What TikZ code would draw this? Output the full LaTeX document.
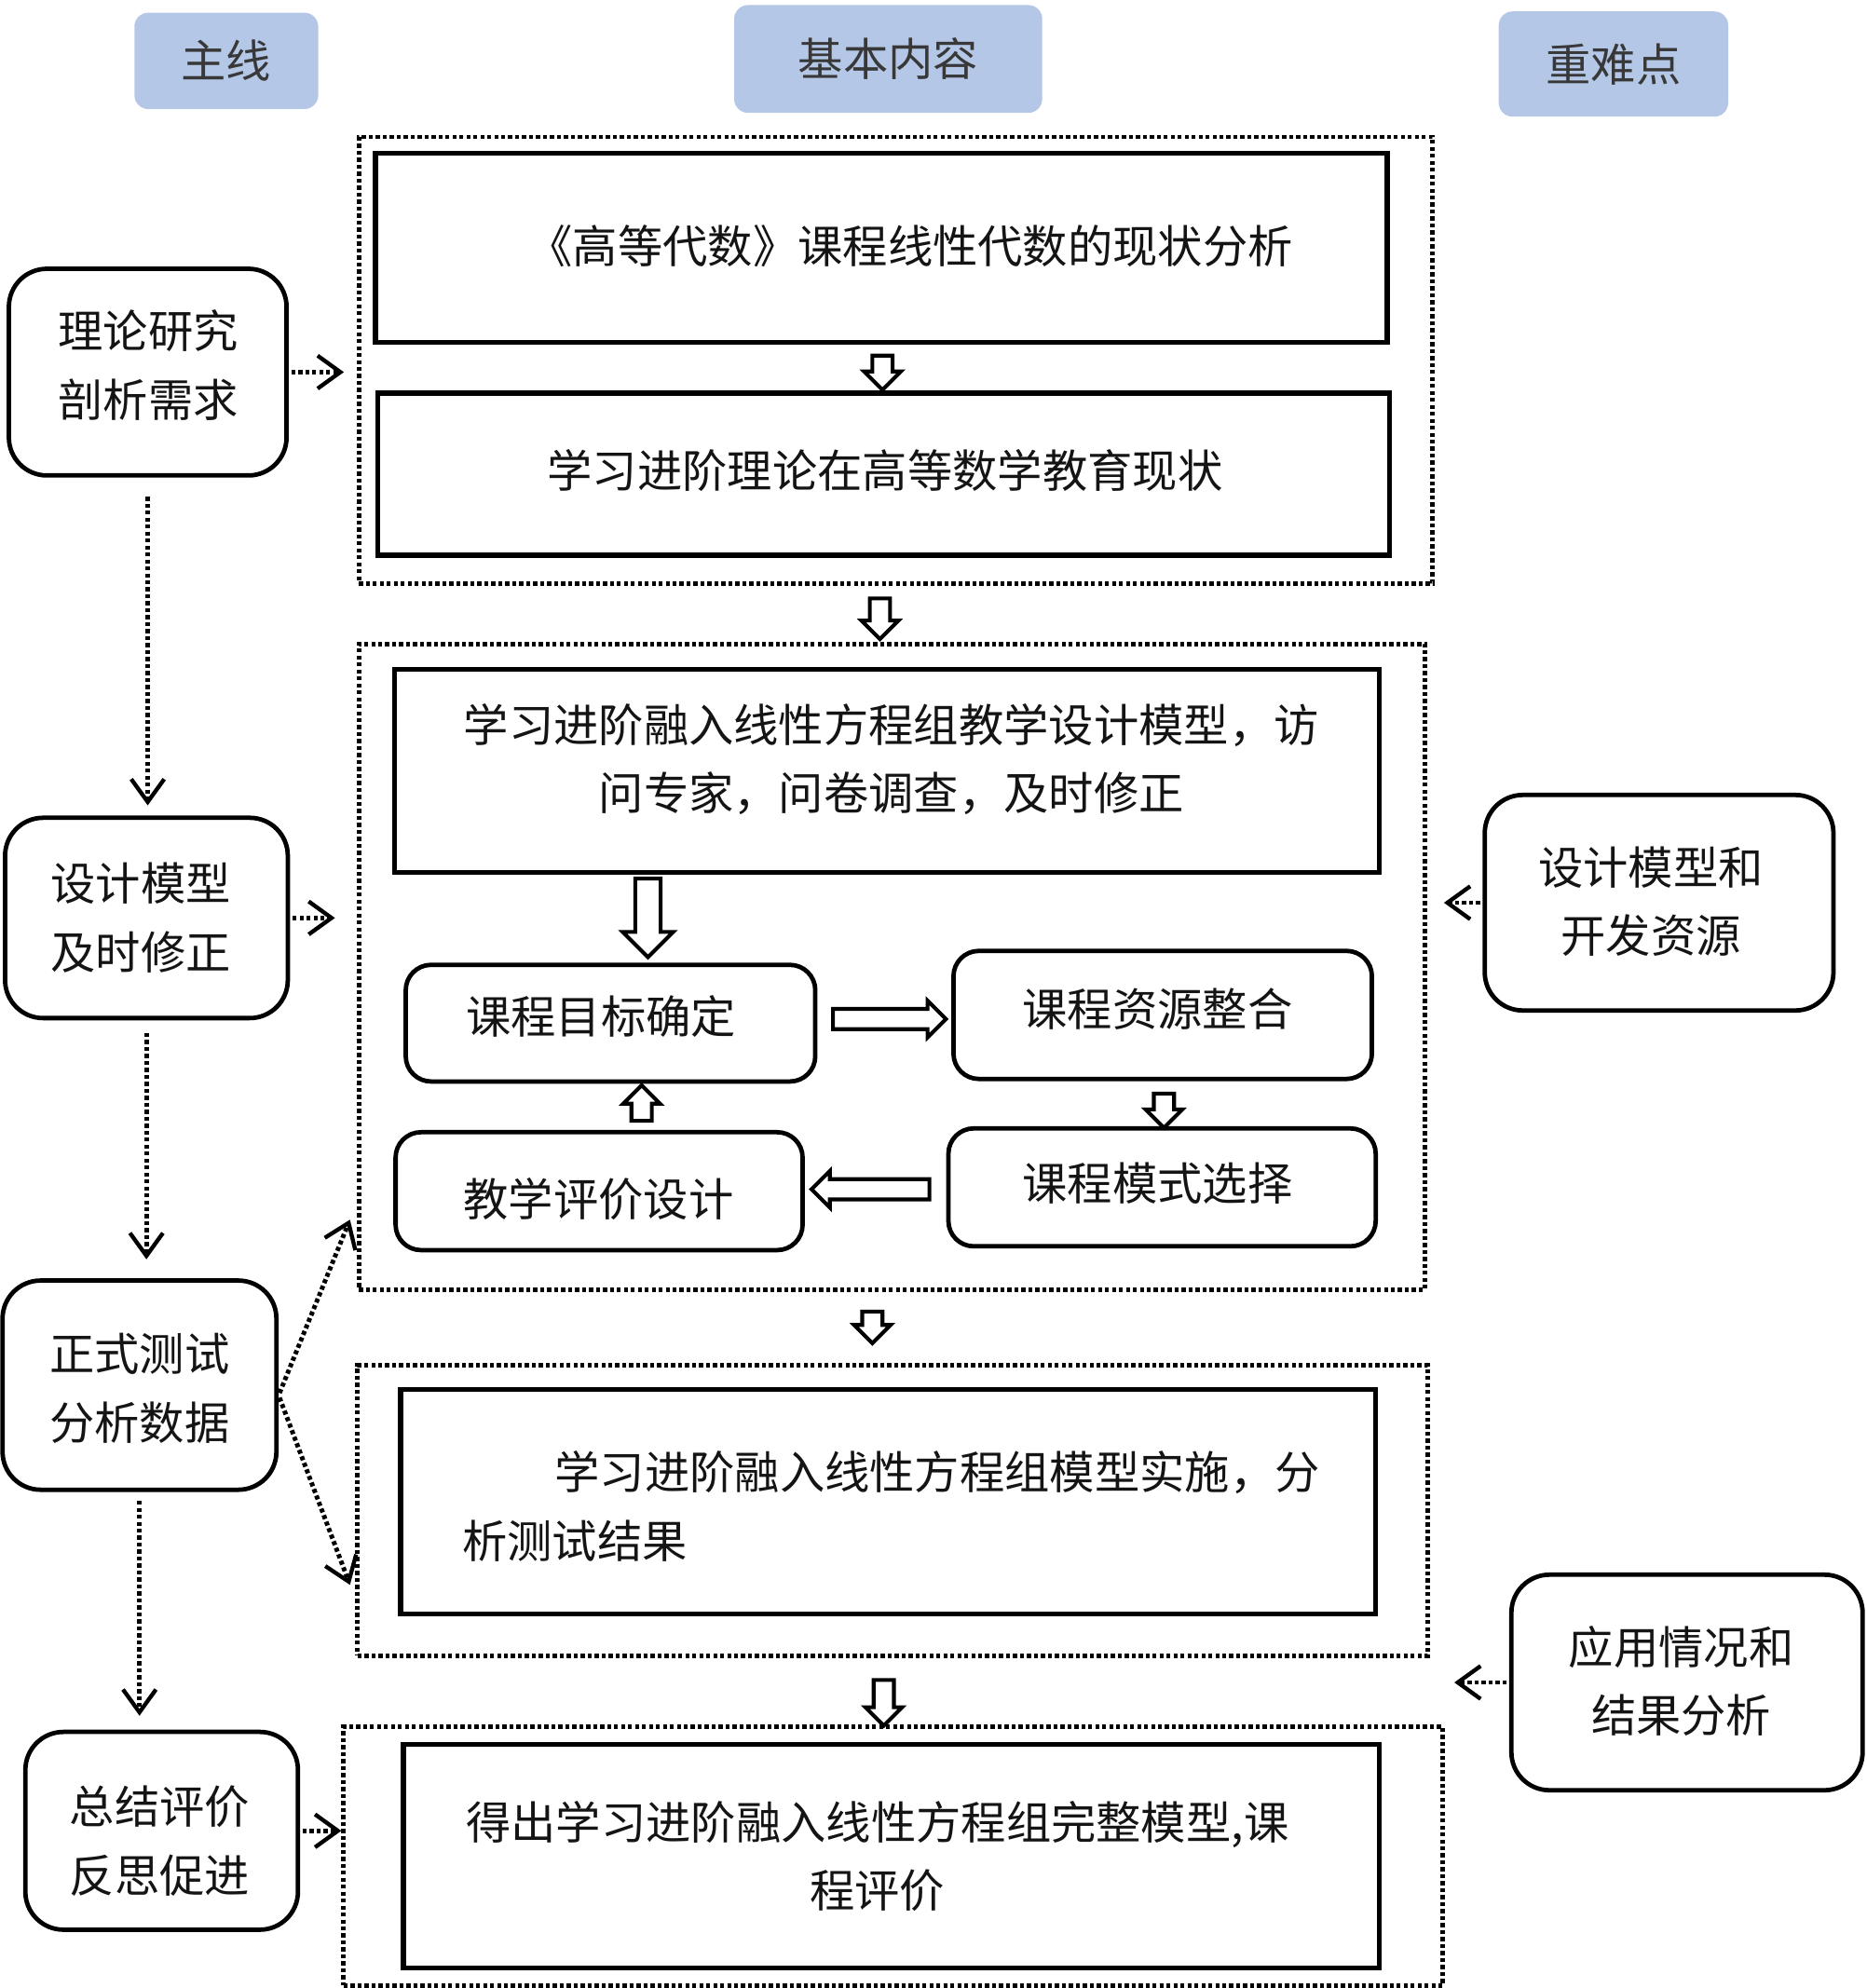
\documentclass[tikz,border=0pt]{standalone}
\usepackage{fontspec}
\newfontfamily\cjk{Noto Sans CJK SC}
\usetikzlibrary{arrows.meta,shapes.arrows,calc}
\definecolor{hdrblue}{RGB}{180,199,231}
\definecolor{txt}{RGB}{20,20,20}
\tikzset{
  every node/.style={font=\cjk\fontsize{35.5}{54}\selectfont, text=txt},
  hdr/.style={fill=hdrblue, rounded corners=11pt, inner sep=0pt, text=black!78},
  frame/.style={draw, line width=3.6pt, dash pattern=on 3.2pt off 2.3pt, inner sep=0pt},
  solidbox/.style={draw, line width=4pt, inner sep=0pt, align=center},
  sidebox/.style={draw, line width=3.5pt, rounded corners=30pt, inner sep=0pt, align=center},
  stepbox/.style={draw, line width=3.5pt, rounded corners=20pt, inner sep=0pt},
  hollow/.style={single arrow, draw, line width=3pt, fill=white, inner xsep=0pt, inner ysep=6.5pt,
    single arrow head extend=6.5pt, single arrow head indent=0pt, minimum width=0pt, outer sep=0pt},
  bighollow/.style={hollow, inner ysep=8.5pt, single arrow head extend=10pt},
  dotarrow/.style={line width=3.6pt, dash pattern=on 3.2pt off 2.3pt,
    -{Straight Barb[length=18pt,width=26pt,line width=3.2pt]}}
}
\begin{document}
\begin{tikzpicture}[x=1pt,y=-1pt]
\useasboundingbox (0,0) rectangle (1472,1568);

% headers
\node[hdr, minimum width=145pt, minimum height=76pt] (h1) at (178.5,48) {主线};
\node[hdr, minimum width=243pt, minimum height=85pt] (h2) at (700.5,46.5) {基本内容};
\node[hdr, minimum width=181pt, minimum height=83pt] (h3) at (1272.5,50.5) {重难点};

% group frames
\node[frame, minimum width=847pt, minimum height=352pt] (g1) at (706.5,284) {};
\node[frame, minimum width=841pt, minimum height=509pt] (g2) at (703.5,762.5) {};
\node[frame, minimum width=844pt, minimum height=229pt] (g3) at (704,1191.5) {};
\node[frame, minimum width=867pt, minimum height=204pt] (g4) at (704.5,1464) {};

% main boxes
\node[solidbox, minimum width=798pt, minimum height=149pt] (A) at (695,195.5) {};
\node (At) at (718,194) {《高等代数》课程线性代数的现状分析};
\node[solidbox, minimum width=798pt, minimum height=128pt] (B) at (697,374) {};
\node (Bt) at (698,371) {学习进阶理论在高等数学教育现状};
\node[solidbox, minimum width=777pt, minimum height=160pt] (C) at (699.5,608) {};
\node[align=center] (Ct) at (703,599) {学习进阶融入线性方程组教学设计模型，访\\问专家，问卷调查，及时修正};
\node[solidbox, minimum width=769pt, minimum height=177pt] (D) at (700.5,1184.5) {};
\node[align=left, anchor=west] (Dt) at (361,1188) {\hspace*{73pt}学习进阶融入线性方程组模型实施，分\\析测试结果};
\node[solidbox, minimum width=770pt, minimum height=176pt] (E) at (703,1464) {};
\node[align=center] (Et) at (692,1464) {得出学习进阶融入线性方程组完整模型,课\\程评价};

% step boxes
\node[stepbox, minimum width=323pt, minimum height=92pt] (P) at (481.5,807) {};
\node (Pt) at (474,802) {课程目标确定};
\node[stepbox, minimum width=330pt, minimum height=101pt] (Q) at (917,800.5) {};
\node (Qt) at (913,796) {课程资源整合};
\node[stepbox, minimum width=337pt, minimum height=93pt] (R) at (916.5,936.5) {};
\node (Rt) at (913,933) {课程模式选择};
\node[stepbox, minimum width=321pt, minimum height=93pt] (S) at (472.5,939.5) {};
\node (St) at (472,946) {教学评价设计};

% side boxes
\node[sidebox, minimum width=219pt, minimum height=163pt] (L1) at (116.5,293.5) {};
\node[align=center] (L1t) at (117,288) {理论研究\\剖析需求};
\node[sidebox, minimum width=223pt, minimum height=158pt] (L2) at (115.5,724) {};
\node[align=center] (L2t) at (111,724) {设计模型\\及时修正};
\node[sidebox, minimum width=216pt, minimum height=165pt] (L3) at (110,1092.5) {};
\node[align=center] (L3t) at (110,1095) {正式测试\\分析数据};
\node[sidebox, minimum width=215pt, minimum height=156pt] (L4) at (127.5,1444) {};
\node[align=center] (L4t) at (126,1452) {总结评价\\反思促进};
\node[sidebox, minimum width=275pt, minimum height=170pt] (R1) at (1308.5,712) {};
\node[align=center] (R1t) at (1302,711) {设计模型和\\开发资源};
\node[sidebox, minimum width=277pt, minimum height=170pt] (R2) at (1330.5,1327) {};
\node[align=center] (R2t) at (1326,1326) {应用情况和\\结果分析};

% hollow block arrows
\node[hollow, rotate=-90, minimum height=27pt] (a1) at ($(A.south)!.5!(B.north)$) {};
\node[hollow, rotate=-90, minimum height=32pt] (a2) at (694,484) {};
\node[bighollow, rotate=-90, minimum height=62pt] (a3) at (511,719) {};
\node[hollow, minimum height=89pt] (a4) at ($(P.east)!.5!(Q.west)$) {};
\node[hollow, rotate=-90, minimum height=27pt] (a5) at (918,872) {};
\node[hollow, rotate=180, minimum height=93pt] (a6) at ($(S.east)!.5!(R.west)$) {};
\node[hollow, rotate=90, minimum height=28pt] (a7) at (506,874) {};
\node[hollow, rotate=-90, minimum height=25pt] (a8) at (688,1043) {};
\node[hollow, rotate=-90, minimum height=36pt] (a9) at (697,1339) {};

% dotted connectors
\coordinate (t1) at (276,962);
\coordinate (t2) at (276,1250);
\coordinate (t3) at (1147,1327);
\draw[dotarrow, shorten <=2pt, shorten >=10pt] (L1.east) -- (L1.east -| g1.west);
\draw[dotarrow, shorten <=15pt, shorten >=8pt] (L1.south) -- (L1.south |- L2.north);
\draw[dotarrow, shorten <=2pt, shorten >=17pt] (L2.east) -- (L2.east -| g2.west);
\draw[dotarrow, shorten <=10pt, shorten >=15pt] (L2.south) -- (L2.south |- L3.north);
\draw[dotarrow, shorten <=2pt] ($(L3.east)+(0,8)$) -- (t1);
\draw[dotarrow, shorten <=2pt] ($(L3.east)+(0,8)$) -- (t2);
\draw[dotarrow, shorten <=7pt, shorten >=11pt] (L3.south) -- (L3.south |- L4.north);
\draw[dotarrow, shorten <=2pt, shorten >=0pt] (L4.east) -- (L4.east -| g4.west);
\draw[dotarrow, shorten <=2pt, shorten >=13pt] (R1.west) -- (R1.west -| g2.east);
\draw[dotarrow, shorten <=2pt] (R2.west) -- (t3);
\end{tikzpicture}
\end{document}
